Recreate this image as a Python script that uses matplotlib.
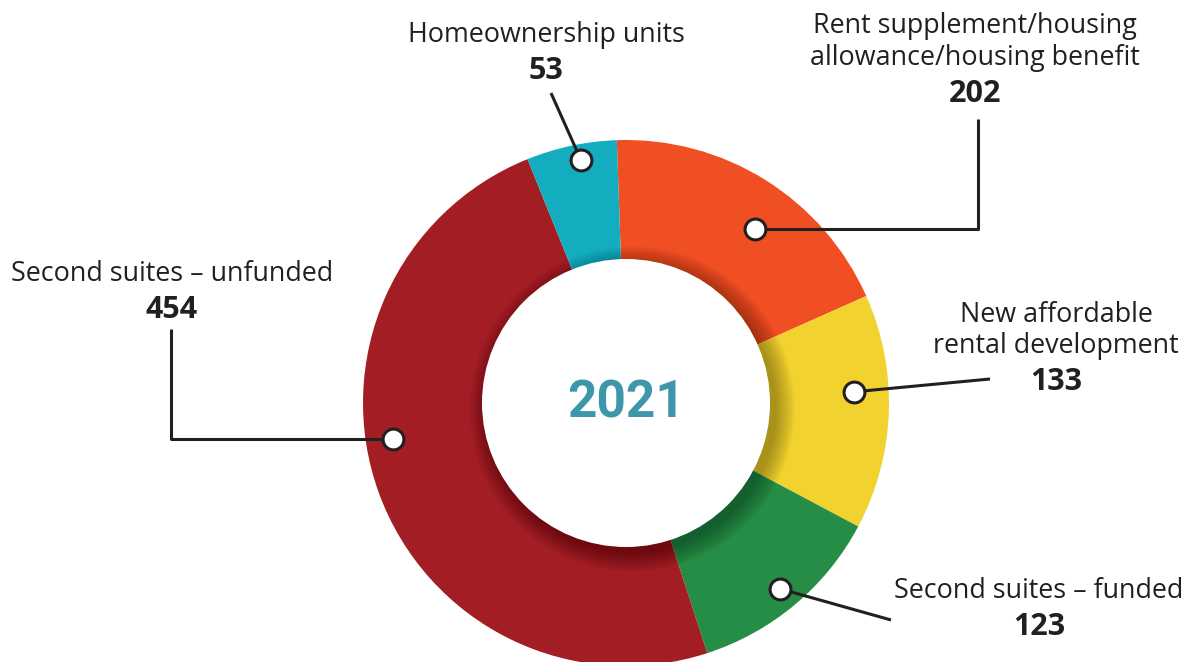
import matplotlib
matplotlib.use("Agg")
import matplotlib.pyplot as plt
import numpy as np
from matplotlib.patches import Circle

# Data (clockwise from the top)
categories = ["Rent supplement/housing\nallowance/housing benefit",
              "New affordable\nrental development",
              "Second suites \u2013 funded",
              "Second suites \u2013 unfunded",
              "Homeownership units"]
values = [202, 133, 123, 454, 53]
# arc sizes as drawn in the picture (degrees)
arc_sizes = [68, 52, 44, 176, 20]
colors = ["#f04e23", "#f2d22e", "#268d46", "#a31d24", "#14adc0"]
year = "2021"

W, H = 1197, 662
TXT = "#231f20"

def py(y):
    # picture y (down) -> axes y (up)
    return H - y

fig = plt.figure(figsize=(W / 100, H / 100), dpi=100)
ax = fig.add_axes([0, 0, 1, 1])

cx, cy = 626, py(403)
r_out, r_in = 263, 144

wedges, _ = ax.pie(arc_sizes, colors=colors, startangle=92, counterclock=False,
                   center=(cx, cy), radius=r_out,
                   wedgeprops=dict(edgecolor="none", linewidth=0))

# soft shadow of the hole onto the ring (lower right)
for k in range(20):
    ax.add_patch(Circle((cx + 6, cy - 6), r_in + k, color="black",
                        alpha=0.014, lw=0, zorder=2))
ax.add_patch(Circle((cx, cy), r_in, color="white", lw=0, zorder=3))

ax.text(cx, cy - 1, year, ha="center", va="center", fontsize=37, fontweight="bold",
        family="Roboto", color="#3d96aa", zorder=4)

# label layout: dot angle offset / radius, text centre x, first baseline y, leader
dot_off = [-4.6, 4.8, -0.4, -11.2, -1.5]
dot_r = [217, 228, 241, 236, 247]
text_x = [975, 1056, 1039, 172, 546]
text_y = [33, 322, 598, 281, 42]
# ("elbow", x, y_end) -> horizontal then vertical ; ("line", x, y) -> straight
leaders = [("elbow", 978, 119), ("line", 990, 379), ("line", 891, 620),
           ("elbow", 171, 329), ("line", 551, 93)]

for i, w in enumerate(wedges):
    mid = np.deg2rad((w.theta1 + w.theta2) / 2 + dot_off[i])
    dx = cx + dot_r[i] * np.cos(mid)
    dy = cy + dot_r[i] * np.sin(mid)
    kind, lx, ly = leaders[i]
    if kind == "elbow":
        xs, ys = [dx, lx, lx], [dy, dy, py(ly)]
    else:
        xs, ys = [dx, lx], [dy, py(ly)]
    ax.plot(xs, ys, color=TXT, lw=2.2, zorder=5, solid_capstyle="butt")
    ax.plot(dx, dy, "o", ms=15, mfc="white", mec=TXT, mew=2.2, zorder=6)

    lines = categories[i].split("\n")
    y = text_y[i]
    for j, line in enumerate(lines):
        ax.text(text_x[i], py(y + 31.5 * j), line, ha="center", va="baseline",
                fontsize=19.4, family="Open Sans", color=TXT)
    yb = y + 31.5 * (len(lines) - 1) + 37
    ax.text(text_x[i], py(yb), str(values[i]), ha="center", va="baseline",
            fontsize=22, fontweight="bold", family="Open Sans", color=TXT)

ax.set_xlim(0, W)
ax.set_ylim(0, H)
ax.set_aspect("equal")
ax.axis("off")

fig.savefig("out.png", dpi=100, facecolor="white")
